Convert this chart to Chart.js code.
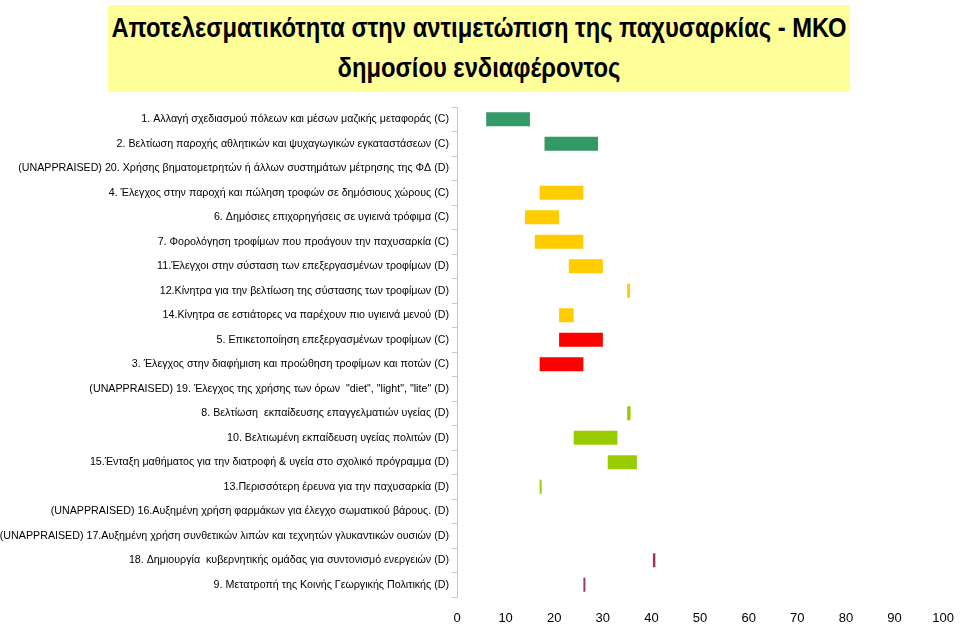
<!DOCTYPE html>
<html>
<head>
<meta charset="utf-8">
<script src="https://cdn.jsdelivr.net/npm/chart.js@4.4.1/dist/chart.umd.min.js"></script>
<style>
    html, body { margin: 0; padding: 0; background: #fff; }
    #wrap { position: relative; width: 960px; height: 625px; }
    #title {
        position: absolute; left: 108px; top: 5px; width: 742px; height: 87px;
        background: #ffff99; color: #000;
        font-family: "Liberation Sans", Arial, sans-serif;
        font-weight: bold; font-size: 27px; line-height: 32px; white-space: nowrap;
    }
    #title span {
        position: absolute; left: 50%;
        transform: translateX(-50%) scaleX(0.88); transform-origin: 50% 50%;
    }
    canvas { position: absolute; left: 0; top: 0; }
</style>
</head>
<body>
<div id="wrap">
    <canvas id="graph" width="960" height="625"></canvas>
    <div id="title"><span style="top:7px">Αποτελεσματικότητα στην αντιμετώπιση της παχυσαρκίας - ΜΚΟ</span><span style="top:47px">δημοσίου ενδιαφέροντος</span></div>
</div>
<script>
// Interventions (top to bottom)
var labels = [
    "1. Αλλαγή σχεδιασμού πόλεων και μέσων μαζικής μεταφοράς (C)",
    "2. Βελτίωση παροχής αθλητικών και ψυχαγωγικών εγκαταστάσεων (C)",
    "(UNAPPRAISED) 20. Χρήσης βηματομετρητών ή άλλων συστημάτων μέτρησης της ΦΔ (D)",
    "4. Έλεγχος στην παροχή και πώληση τροφών σε δημόσιους χώρους (C)",
    "6. Δημόσιες επιχορηγήσεις σε υγιεινά τρόφιμα (C)",
    "7. Φορολόγηση τροφίμων που προάγουν την παχυσαρκία (C)",
    "11.Έλεγχοι στην σύσταση των επεξεργασμένων τροφίμων (D)",
    "12.Κίνητρα για την βελτίωση της σύστασης των τροφίμων (D)",
    "14.Κίνητρα σε εστιάτορες να παρέχουν πιο υγιεινά μενού (D)",
    "5. Επικετοποίηση επεξεργασμένων τροφίμων (C)",
    "3. Έλεγχος στην διαφήμιση και προώθηση τροφίμων και ποτών (C)",
    "(UNAPPRAISED) 19. Έλεγχος της χρήσης των όρων  \"diet\", \"light\", \"lite\" (D)",
    "8. Βελτίωση  εκπαίδευσης επαγγελματιών υγείας (D)",
    "10. Βελτιωμένη εκπαίδευση υγείας πολιτών (D)",
    "15.Ένταξη μαθήματος για την διατροφή & υγεία στο σχολικό πρόγραμμα (D)",
    "13.Περισσότερη έρευνα για την παχυσαρκία (D)",
    "(UNAPPRAISED) 16.Αυξημένη χρήση φαρμάκων για έλεγχο σωματικού βάρους. (D)",
    "(UNAPPRAISED) 17.Αυξημένη χρήση συνθετικών λιπών και τεχνητών γλυκαντικών ουσιών (D)",
    "18. Δημιουργία  κυβερνητικής ομάδας για συντονισμό ενεργειών (D)",
    "9. Μετατροπή της Κοινής Γεωργικής Πολιτικής (D)"
];

// low / high effectiveness range (null = not appraised)
var lows  = [6, 18, null, 17, 14, 16, 23, 35, 21, 21, 17, null, 35, 24, 31, 17, null, null, 40.3, 26];
var highs = [15, 29, null, 26, 21, 26, 30, 35.6, 24, 30, 26, null, 35.7, 33, 37, 17.4, null, null, 40.8, 26.4];

var barColors = [
    "#339966", "#339966", "#339966",
    "#ffcc00", "#ffcc00", "#ffcc00", "#ffcc00", "#ffcc00", "#ffcc00",
    "#ff0000", "#ff0000", "#ff0000",
    "#99cc00", "#99cc00", "#99cc00", "#99cc00", "#99cc00", "#99cc00",
    "#993366", "#993366"
];

var xTicks = [0, 10, 20, 30, 40, 50, 60, 70, 80, 90, 100];

var ranges = [];
for (var i = 0; i < labels.length; i++) {
    ranges.push(lows[i] === null ? null : [lows[i], highs[i]]);
}

var ctx = document.getElementById("graph").getContext("2d");
new Chart(ctx, {
    type: "bar",
    data: {
        labels: labels,
        datasets: [{
            data: ranges,
            backgroundColor: barColors,
            borderWidth: 0,
            categoryPercentage: 1,
            barPercentage: 0.57
        }]
    },
    options: {
        indexAxis: "y",
        responsive: false,
        animation: false,
        layout: { padding: { top: 107, right: 15, bottom: 0, left: 0 } },
        plugins: {
            legend: { display: false },
            tooltip: { enabled: false }
        },
        scales: {
            x: {
                min: 0,
                max: 100,
                afterBuildTicks: function (scale) {
                    scale.ticks = xTicks.map(function (v) { return { value: v }; });
                },
                afterFit: function (scale) { scale.height = 28; },
                grid: { display: false },
                border: { display: false },
                ticks: {
                    color: "#000",
                    padding: 6,
                    font: { family: "Liberation Sans, Arial, sans-serif", size: 13 }
                }
            },
            y: {
                afterFit: function (scale) { scale.width = 457; },
                grid: {
                    drawOnChartArea: false,
                    drawTicks: true,
                    tickLength: 5,
                    color: "#c8c8c8"
                },
                border: { display: true, color: "#c8c8c8" },
                ticks: {
                    color: "#000",
                    padding: 3,
                    autoSkip: false,
                    font: { family: "Liberation Sans, Arial, sans-serif", size: 10.7 }
                }
            }
        }
    }
});
</script>
</body>
</html>
